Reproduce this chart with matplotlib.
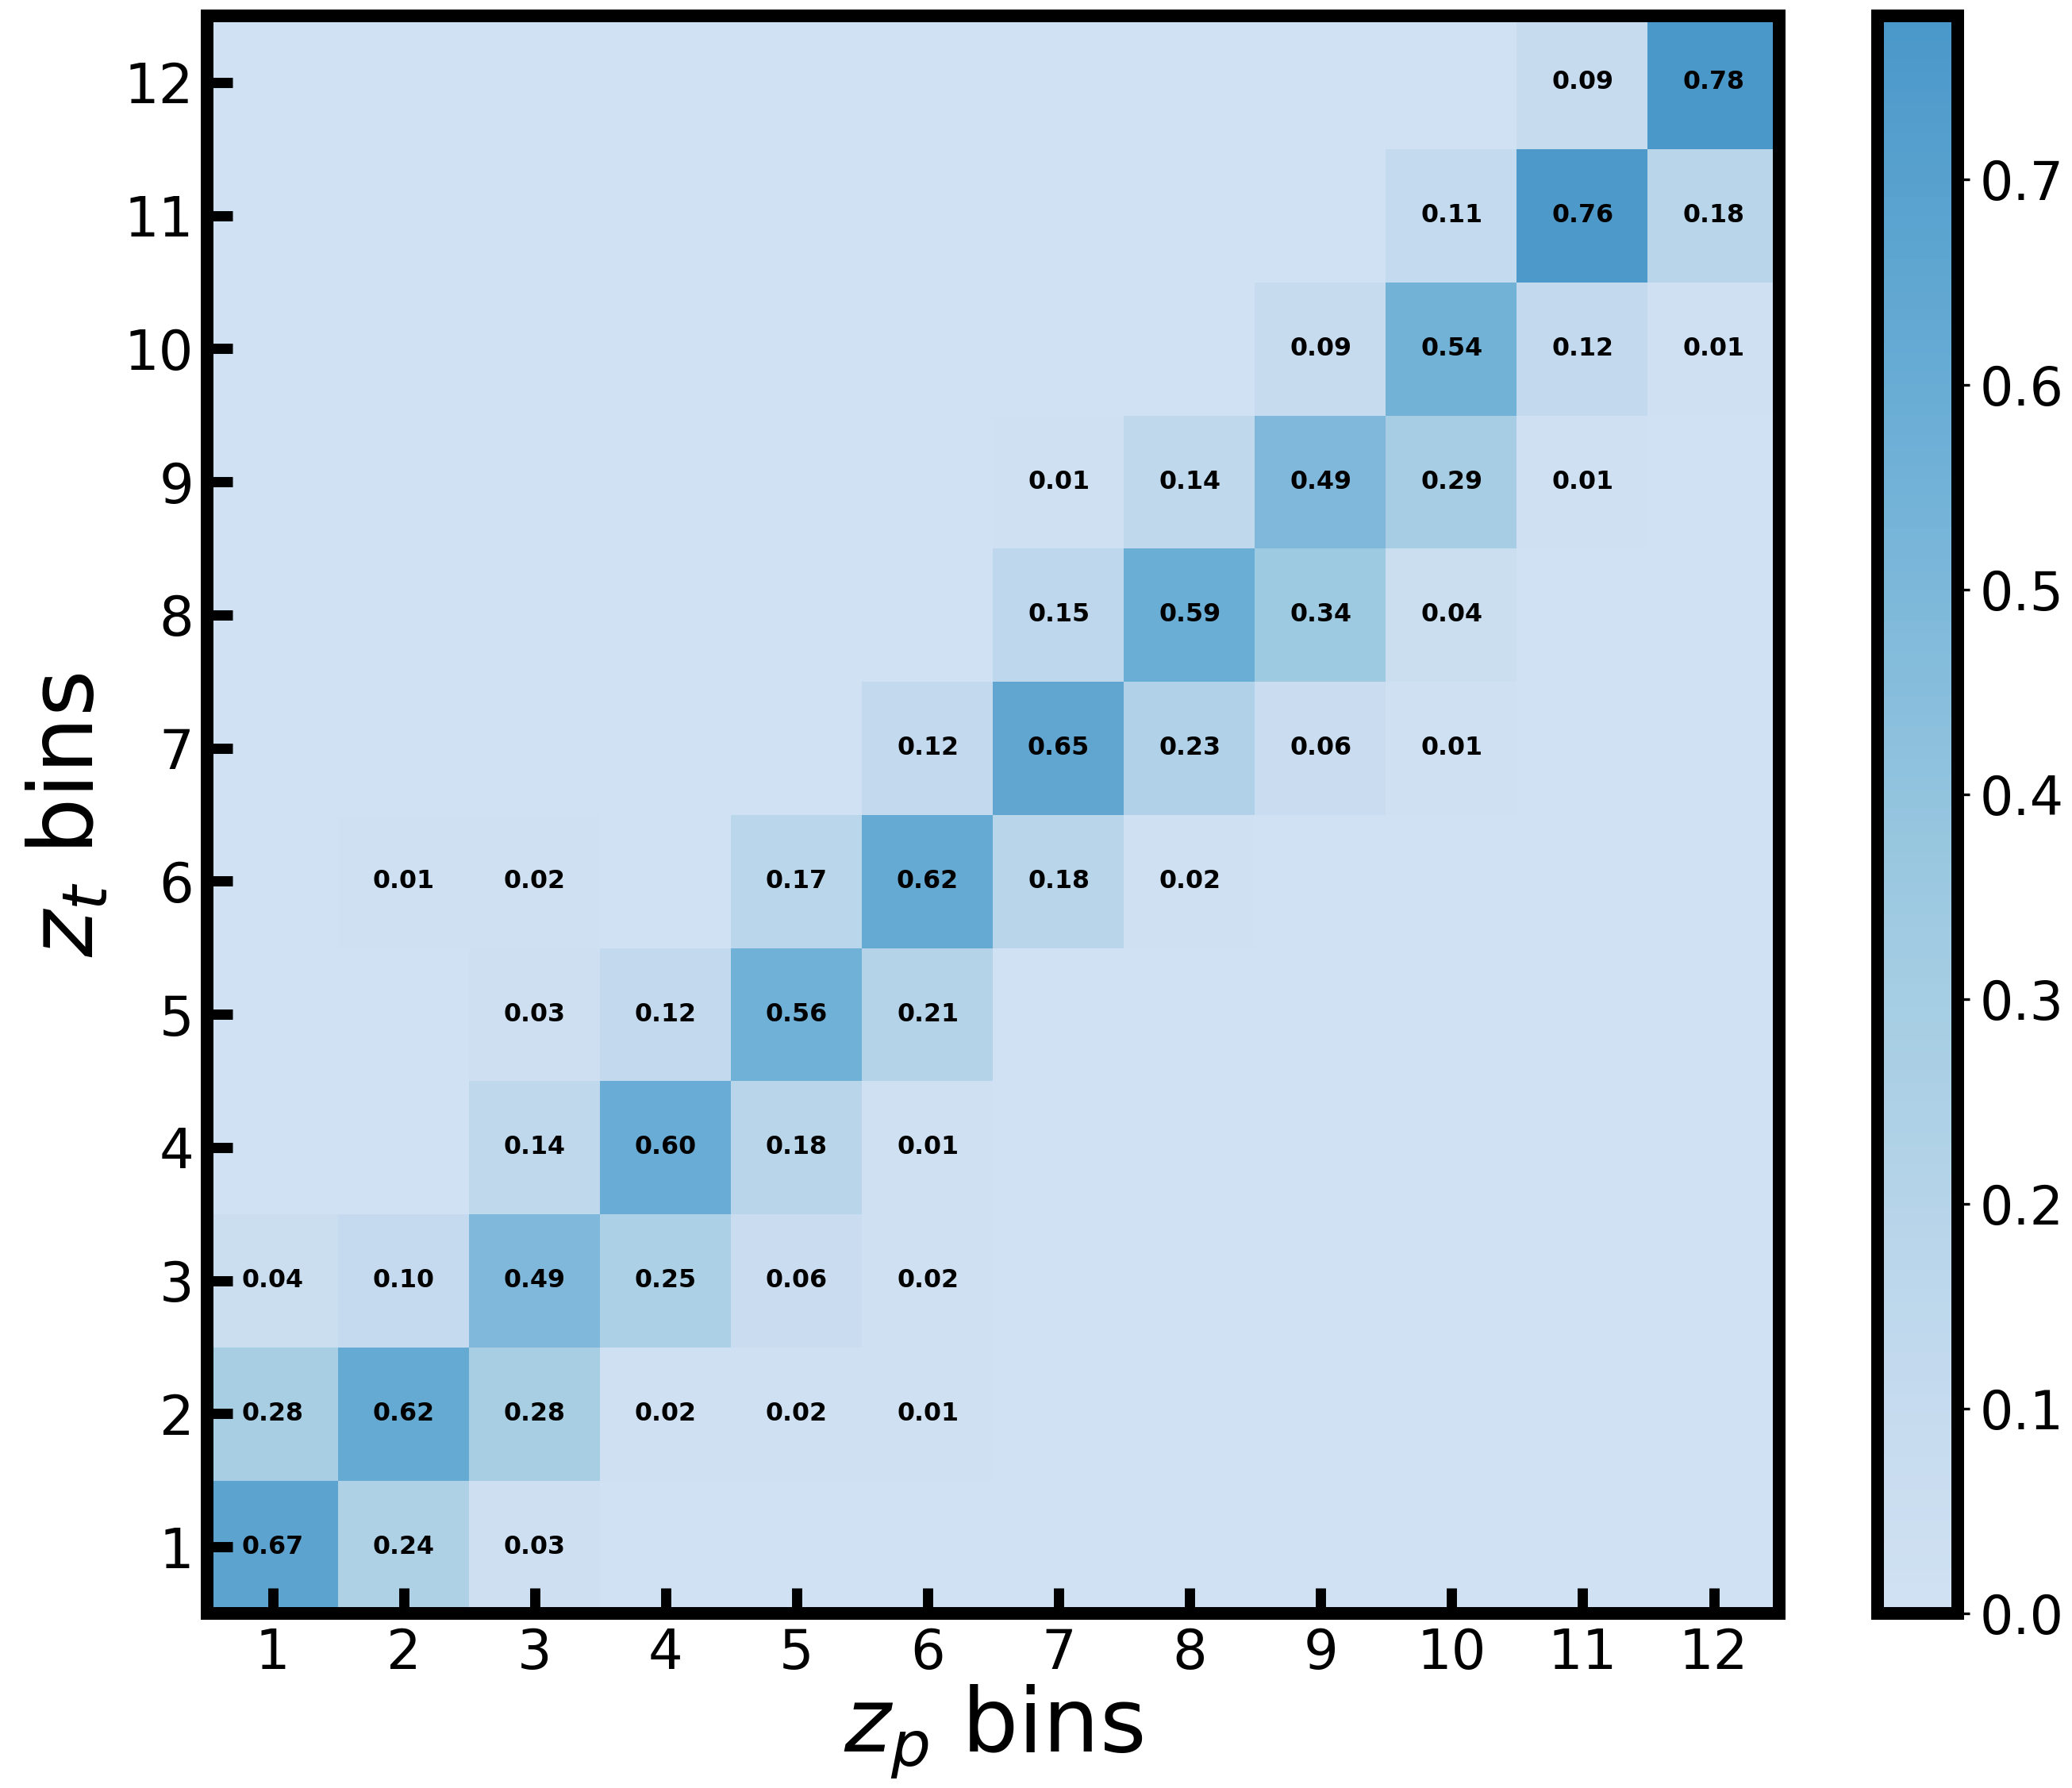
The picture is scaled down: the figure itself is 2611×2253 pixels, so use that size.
import numpy as np
import matplotlib
matplotlib.use("Agg")
import matplotlib.pyplot as plt
from matplotlib.colors import ListedColormap

# bin labels
zp_bins = list(range(1, 13))
zt_bins = list(range(1, 13))

# fraction of objects per (z_t, z_p) bin; rows are z_t bins 1..12 (bottom to top)
row_zt01 = [0.67, 0.24, 0.03, 0.00, 0.00, 0.00, 0.00, 0.00, 0.00, 0.00, 0.00, 0.00]
row_zt02 = [0.28, 0.62, 0.28, 0.02, 0.02, 0.01, 0.00, 0.00, 0.00, 0.00, 0.00, 0.00]
row_zt03 = [0.04, 0.10, 0.49, 0.25, 0.06, 0.02, 0.00, 0.00, 0.00, 0.00, 0.00, 0.00]
row_zt04 = [0.00, 0.00, 0.14, 0.60, 0.18, 0.01, 0.00, 0.00, 0.00, 0.00, 0.00, 0.00]
row_zt05 = [0.00, 0.00, 0.03, 0.12, 0.56, 0.21, 0.00, 0.00, 0.00, 0.00, 0.00, 0.00]
row_zt06 = [0.00, 0.01, 0.02, 0.00, 0.17, 0.62, 0.18, 0.02, 0.00, 0.00, 0.00, 0.00]
row_zt07 = [0.00, 0.00, 0.00, 0.00, 0.00, 0.12, 0.65, 0.23, 0.06, 0.01, 0.00, 0.00]
row_zt08 = [0.00, 0.00, 0.00, 0.00, 0.00, 0.00, 0.15, 0.59, 0.34, 0.04, 0.00, 0.00]
row_zt09 = [0.00, 0.00, 0.00, 0.00, 0.00, 0.00, 0.01, 0.14, 0.49, 0.29, 0.01, 0.00]
row_zt10 = [0.00, 0.00, 0.00, 0.00, 0.00, 0.00, 0.00, 0.00, 0.09, 0.54, 0.12, 0.01]
row_zt11 = [0.00, 0.00, 0.00, 0.00, 0.00, 0.00, 0.00, 0.00, 0.00, 0.11, 0.76, 0.18]
row_zt12 = [0.00, 0.00, 0.00, 0.00, 0.00, 0.00, 0.00, 0.00, 0.00, 0.00, 0.09, 0.78]

matrix = np.array([row_zt01, row_zt02, row_zt03, row_zt04, row_zt05, row_zt06,
                   row_zt07, row_zt08, row_zt09, row_zt10, row_zt11, row_zt12])

# light-to-mid section of the Blues map
cmap = ListedColormap(plt.cm.Blues(np.linspace(0.2, 0.6, 256)))

W, H, DPI = 2611, 2253, 300
fig = plt.figure(figsize=(W / DPI, H / DPI), dpi=DPI)

ax = fig.add_axes([0.1000, 0.0977, 0.7587, 0.8934])
cax = fig.add_axes([0.9062, 0.0977, 0.0387, 0.8934])

im = ax.imshow(matrix, cmap=cmap, vmin=0.0, vmax=matrix.max(), origin="lower",
               extent=(0.5, len(zp_bins) + 0.5, 0.5, len(zt_bins) + 0.5),
               aspect="auto", interpolation="nearest")

for i, zt in enumerate(zt_bins):
    for j, zp in enumerate(zp_bins):
        v = matrix[i, j]
        if v > 0:
            ax.text(zp, zt, f"{v:.2f}", ha="center", va="center",
                    fontsize=7.6, fontweight="bold", color="black")

ax.set_xticks(zp_bins)
ax.set_yticks(zt_bins)
ax.set_xticklabels([str(b) for b in zp_bins])
ax.set_yticklabels([str(b) for b in zt_bins])
ax.tick_params(axis="both", direction="in", length=7.7, width=3.1,
               labelsize=16.5, pad=4, top=False, right=False)
for sp in ax.spines.values():
    sp.set_linewidth(3.84)

ax.set_xlabel(r"$z_p$ bins", fontsize=27, labelpad=1)
ax.set_ylabel(r"$z_t$ bins", fontsize=27, labelpad=4)

cb = fig.colorbar(im, cax=cax)
cb.set_ticks(np.arange(0.0, 0.75, 0.1))
cb.ax.tick_params(labelsize=16, width=0.8, length=3.5, pad=3)
cb.outline.set_linewidth(3.84)

fig.savefig("out.png", dpi=DPI)
